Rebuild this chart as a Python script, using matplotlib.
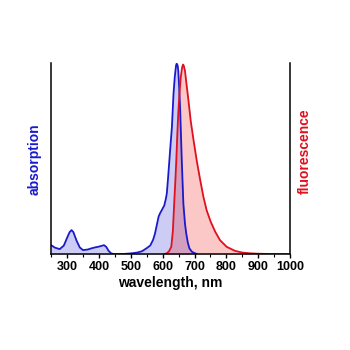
#!/usr/bin/env python3
"""Absorption / fluorescence spectra (normalised), Matplotlib only."""
import numpy as np
import matplotlib
matplotlib.use("Agg")
import matplotlib.pyplot as plt

# absorption spectrum (normalised)
abs_nm = [250, 262, 277, 290, 300, 308, 314, 320, 330, 340, 350, 365, 376, 390,
          397, 408, 416, 423, 430, 439, 450, 480, 502, 520, 535, 549, 561, 570,
          576, 582, 587, 592, 597, 605, 610, 613, 617, 621, 625, 629, 634, 638,
          642, 644, 647, 649, 652, 655, 660, 665, 670, 674, 679, 684, 692, 702, 708]
abs_val = [0.047, 0.034, 0.026, 0.045, 0.085, 0.115, 0.126, 0.115, 0.07, 0.035,
           0.021, 0.024, 0.03, 0.036, 0.038, 0.043, 0.047, 0.038, 0.018, 0.003,
           0.0, 0.001, 0.004, 0.008, 0.015, 0.03, 0.045, 0.075, 0.108, 0.155,
           0.195, 0.215, 0.23, 0.255, 0.29, 0.318, 0.4, 0.49, 0.58, 0.666, 0.84,
           0.93, 0.99, 1.0, 0.99, 0.963, 0.87, 0.754, 0.49, 0.265, 0.16, 0.108,
           0.06, 0.03, 0.012, 0.004, 0.0]

# fluorescence spectrum (normalised)
fl_nm = [605, 613, 620, 627, 632, 636, 640, 643, 646, 649, 653, 657, 661, 664,
         666, 670, 675, 681, 688, 697, 707, 718, 728, 738, 751, 765, 780, 801,
         827, 850, 875, 900, 950, 1000]
fl_val = [0.0, 0.004, 0.015, 0.038, 0.12, 0.26, 0.39, 0.5, 0.63, 0.74, 0.85,
          0.93, 0.98, 0.995, 0.99, 0.963, 0.89, 0.806, 0.70, 0.597, 0.49, 0.387,
          0.30, 0.23, 0.169, 0.117, 0.073, 0.038, 0.017, 0.008, 0.004, 0.002,
          0.0, 0.0]

x_ticks = [300, 400, 500, 600, 700, 800, 900, 1000]

plt.rcParams["font.family"] = ["Liberation Sans", "DejaVu Sans"]
plt.rcParams["font.weight"] = "bold"

BLUE = "#1a1acc"
RED = "#e0101e"

fig = plt.figure(figsize=(3.5, 3.5), dpi=100)
ax = fig.add_axes([0.146, 0.274, 0.683, 0.547])

ax.fill_between(abs_nm, abs_val, 0, color="#0000c8", alpha=0.2, lw=0)
ax.fill_between(fl_nm, fl_val, 0, color="#f00000", alpha=0.22, lw=0)
ax.plot(abs_nm, abs_val, color=BLUE, lw=1.3)
ax.plot(fl_nm, fl_val, color=RED, lw=1.3)

ax.set_xlim(250, 1000)
ax.set_ylim(0, 1.005)
ax.set_xticks(x_ticks)
ax.set_xticks(np.arange(250, 1001, 50), minor=True)
ax.set_yticks([])
ax.tick_params(axis="x", which="major", length=3, width=1, labelsize=9, pad=2)
ax.tick_params(axis="x", which="minor", length=2, width=0.8)
for lbl in ax.get_xticklabels():
    lbl.set_fontweight("bold")

ax.spines["top"].set_visible(False)
for side in ("left", "right", "bottom"):
    ax.spines[side].set_linewidth(1.1)

ax.set_xlabel("wavelength, nm", fontsize=10, fontweight="bold", labelpad=2)
fig.text(35 / 350, 1 - 159 / 350, "absorption", rotation=90, color=BLUE,
         fontsize=10, fontweight="bold", ha="center", va="center")
fig.text(305 / 350, 1 - 151 / 350, "fluorescence", rotation=90, color=RED,
         fontsize=10, fontweight="bold", ha="center", va="center")

fig.savefig("out.png", dpi=100)
